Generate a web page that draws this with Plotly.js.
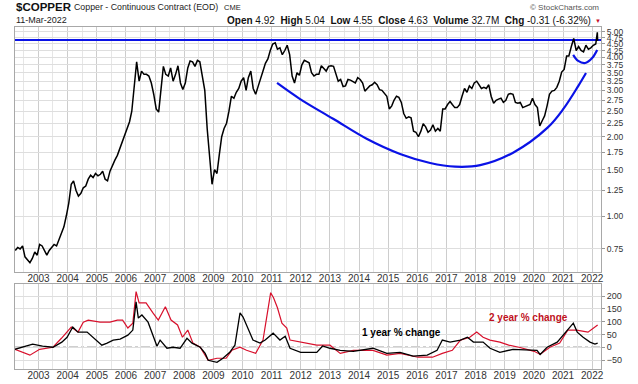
<!DOCTYPE html>
<html><head><meta charset="utf-8">
<script src="https://cdn.plot.ly/plotly-3.0.1.min.js"></script>
<style>html,body{margin:0;padding:0;background:#fff}</style>
</head><body><div id="chart" style="width:638px;height:384px"></div>
<script>
// ---- DATA ----
// Monthly copper closes ($/lb), Mar 2002 .. Feb 2022
const priceFirstMonth = '2002-03';
const price = [
  0.74,0.76,0.75,0.77,0.70,0.68,0.665,0.69,0.73,0.71,                 // 2002 Mar-Dec
  0.78,0.77,0.74,0.71,0.74,0.76,0.78,0.77,0.81,0.86,0.91,1.00,        // 2003
  1.12,1.32,1.36,1.25,1.19,1.22,1.28,1.30,1.38,1.43,1.40,1.45,        // 2004
  1.42,1.44,1.48,1.38,1.36,1.48,1.56,1.63,1.70,1.80,1.92,2.05,        // 2005
  2.18,2.28,2.50,3.05,3.85,3.25,3.55,3.45,3.45,3.40,3.20,2.90,        // 2006
  2.55,2.48,3.05,3.70,3.45,3.40,3.65,3.25,3.45,3.72,3.20,3.02,        // 2007
  3.20,3.65,3.88,3.85,3.70,3.90,3.85,3.35,3.00,2.15,1.70,1.32,        // 2008
  1.50,1.45,1.70,2.00,2.15,2.25,2.50,2.85,2.80,2.95,3.05,3.25,        // 2009
  3.35,3.00,3.35,3.55,3.05,2.90,3.10,3.35,3.55,3.80,3.95,4.25,        // 2010
  4.50,4.55,4.30,4.35,4.10,4.25,4.45,4.10,3.40,3.20,3.50,3.42,        // 2011
  3.75,3.90,3.85,3.82,3.50,3.40,3.45,3.45,3.72,3.65,3.55,3.70,        // 2012
  3.72,3.70,3.45,3.25,3.30,3.10,3.12,3.30,3.28,3.25,3.20,3.35,        // 2013
  3.30,3.20,2.98,3.05,3.12,3.15,3.22,3.15,3.02,3.00,2.92,2.85,        // 2014
  2.55,2.62,2.75,2.85,2.82,2.70,2.45,2.35,2.38,2.36,2.10,2.08,        // 2015
  2.00,2.10,2.24,2.18,2.08,2.12,2.22,2.10,2.15,2.10,2.55,2.55,        // 2016
  2.65,2.72,2.65,2.58,2.58,2.65,2.85,3.05,2.95,3.12,3.05,3.20,        // 2017
  3.25,3.15,3.05,3.08,3.05,3.15,2.85,2.68,2.75,2.78,2.80,2.70,        // 2018
  2.75,2.90,2.92,2.90,2.70,2.68,2.70,2.58,2.60,2.62,2.65,2.80,        // 2019
  2.65,2.58,2.20,2.30,2.40,2.62,2.90,2.98,3.00,3.08,3.25,3.52,        // 2020
  3.60,4.05,4.05,4.40,4.72,4.25,4.40,4.25,4.20,4.45,4.30,4.35,        // 2021
  4.45,4.50                                                           // 2022 Jan-Feb
];
const tailDates = ['2022-03-07','2022-03-11'];
const tailPrice = [4.98, 4.63];

const resistanceLevel = 4.66;

// hand-drawn rounding-bottom arc (date, price)
const arcDates = ['2011-03-10','2011-12-24','2013-02-10','2014-04-12','2015-05-30','2016-06-10','2017-04-19','2018-02-28','2019-04-16','2020-06-18','2021-01-05','2021-07-12','2021-10-16'];
const arcPrice = [3.20,2.78,2.34,1.96,1.72,1.59,1.54,1.56,1.74,2.16,2.55,3.12,3.49];
const smallArcDates = ['2021-05-08','2021-07-10','2021-10-05','2022-01-01','2022-03-05'];
const smallArcPrice = [4.09,3.88,3.81,3.98,4.27];

// 1-year % change
const chg1Dates = ['2002-03-11','2002-10-20','2003-02-20','2003-07-01','2003-10-20','2003-12-25','2004-03-05','2004-05-10','2004-09-01','2004-11-15','2005-03-05','2005-05-10','2005-07-25','2005-10-20','2006-01-25','2006-03-28','2006-05-08','2006-06-05','2006-07-20','2006-10-05','2006-12-05','2007-01-25','2007-03-05','2007-05-30','2007-08-15','2007-11-10','2008-02-05','2008-04-08','2008-07-20','2008-09-20','2008-10-28','2009-02-15','2009-05-01','2009-07-25','2009-09-28','2009-12-01','2010-01-08','2010-03-01','2010-05-12','2010-08-08','2010-10-12','2011-01-20','2011-04-15','2011-06-20','2011-08-20','2012-01-01','2012-07-20','2012-10-01','2013-01-01','2013-05-10','2013-10-20','2014-06-25','2014-12-15','2015-05-30','2015-11-10','2016-05-05','2016-09-05','2016-11-10','2017-02-15','2017-06-25','2017-09-20','2017-12-05','2018-04-05','2018-07-01','2018-11-01','2019-04-15','2019-10-10','2020-02-10','2020-03-20','2020-06-15','2020-10-20','2021-02-25','2021-05-10','2021-06-28','2021-09-10','2021-12-05','2022-02-05','2022-03-11'];
const chg1 = [-8,12,4,0,20,39,79,59,59,39,8,16,28,32,47,67,177,114,126,98,47,4,28,-4,0,-4,35,16,0,-24,-51,-59,-43,-20,8,134,118,79,28,16,28,55,28,43,-4,-20,-20,5,-4,-12,-16,-4,-24,-20,-35,-31,-12,28,20,28,39,20,20,-4,-20,-8,-12,-12,-28,0,20,67,94,59,39,20,12,16];

// 2-year % change
const chg2Dates = ['2002-03-11','2002-09-15','2003-01-15','2003-07-01','2003-10-15','2004-02-15','2004-05-10','2004-07-15','2004-09-15','2005-02-10','2005-06-15','2005-09-15','2005-11-20','2006-01-25','2006-03-28','2006-05-08','2006-06-15','2006-09-10','2006-12-05','2007-02-10','2007-05-10','2007-07-20','2007-10-10','2007-12-10','2008-02-15','2008-04-20','2008-07-20','2008-10-28','2009-02-15','2009-06-10','2009-08-20','2009-12-01','2010-02-20','2010-06-15','2010-09-15','2010-12-20','2011-01-25','2011-03-15','2011-05-10','2011-07-10','2011-08-20','2012-01-01','2012-07-20','2013-01-01','2013-05-10','2013-10-20','2014-06-25','2014-12-15','2015-05-30','2016-01-10','2016-07-10','2016-11-10','2017-03-15','2017-06-25','2017-10-20','2018-01-15','2018-04-05','2018-06-30','2018-11-01','2019-02-20','2019-06-30','2020-01-05','2020-03-20','2020-07-20','2020-11-20','2021-03-01','2021-06-20','2021-11-10','2022-03-11'];
const chg2 = [-8,-31,-8,0,35,79,59,98,106,98,98,106,106,75,94,217,173,173,134,106,158,106,87,39,67,16,0,-51,-43,-43,-12,0,-12,-24,28,213,193,154,94,75,28,20,8,8,-24,-12,-12,-31,-24,-39,-39,-24,-12,28,39,59,39,28,20,8,0,-16,-28,0,16,67,67,59,87];

// tick labels
const yTicksTop = [0.75,1.00,1.25,1.50,1.75,2.00,2.25,2.50,2.75,3.00,3.25,3.50,3.75,4.00,4.25,4.50,4.75,5.00];
const yTicksBottom = [-50,0,50,100,150,200];

// ---- BUILD ----
const priceDates = [];
{
  let [y, m] = priceFirstMonth.split('-').map(Number);
  for (let i = 0; i < price.length; i++) {
    priceDates.push(y + '-' + String(m).padStart(2,'0') + '-15');
    m++; if (m > 12) { m = 1; y++; }
  }
}
const allDates = priceDates.concat(tailDates);
const allPrice = price.concat(tailPrice);

const xRange = ['2002-03-12', '2022-04-22'];
const W = 638, H = 384, L = 15, R = 37, T = 27, B = 15;
const pw = W - L - R, ph = H - T - B;
const px = x => (x - L) / pw;
const py = y => (H - B - y) / ph;

const FONT = 'Liberation Sans, Arial, sans-serif';

const traces = [
  {x: xRange, y: [resistanceLevel, resistanceLevel], xaxis:'x', yaxis:'y', mode:'lines',
   line:{color:'#0a12e6', width:2}, hoverinfo:'skip'},
  {x: arcDates, y: arcPrice, xaxis:'x', yaxis:'y', mode:'lines',
   line:{color:'#0a12e6', width:2.2, shape:'spline', smoothing:1.0}, hoverinfo:'skip'},
  {x: smallArcDates, y: smallArcPrice, xaxis:'x', yaxis:'y', mode:'lines',
   line:{color:'#0a12e6', width:2.2, shape:'spline', smoothing:1.0}, hoverinfo:'skip'},
  {x: allDates, y: allPrice, xaxis:'x', yaxis:'y', mode:'lines',
   line:{color:'#000', width:1.5}},
  {x: chg2Dates, y: chg2, xaxis:'x2', yaxis:'y2', mode:'lines',
   line:{color:'#d8102c', width:1.2}},
  {x: chg1Dates, y: chg1, xaxis:'x2', yaxis:'y2', mode:'lines',
   line:{color:'#000', width:1.3}}
];

const xCommon = {
  type:'date', range: xRange, dtick:'M12', tick0:'2003-01-01', tickformat:'%Y',
  showgrid:true, gridcolor:'#cdcdcd', gridwidth:1,
  minor:{dtick:'M6', tick0:'2003-01-01', showgrid:true, gridcolor:'#e6e6e6'},
  showline:true, mirror:true, linecolor:'#a8a8a8', linewidth:1,
  ticks:'', ticklabelstandoff:-3, tickfont:{family:FONT, size:10, color:'#333'}, zeroline:false, fixedrange:true
};

const layout = {
  width: W, height: H,
  margin:{l:L, r:R, t:T, b:B, pad:0},
  paper_bgcolor:'#fff', plot_bgcolor:'#fff',
  showlegend:false,
  font:{family:FONT, color:'#333'},
  xaxis: Object.assign({}, xCommon, {domain:[0,1], anchor:'y'}),
  xaxis2: Object.assign({}, xCommon, {domain:[0,1], anchor:'y2', matches:'x'}),
  yaxis: {
    domain:[py(272), 1], type:'log', range:[Math.log10(0.613), Math.log10(5.22)],
    side:'right', tickmode:'array', tickvals:yTicksTop, ticktext:yTicksTop.map(v=>v.toFixed(2)),
    ticks:'outside', ticklen:3, tickcolor:'#999', tickfont:{family:FONT, size:8.5, color:'#333'},
    showgrid:true, gridcolor:'#dedede', showline:true, mirror:true, linecolor:'#a8a8a8', zeroline:false
  },
  yaxis2: {
    domain:[0, py(284)], range:[-85, 247], side:'right', tickmode:'array', tickvals:yTicksBottom,
    ticks:'outside', ticklen:3, tickcolor:'#999', tickfont:{family:FONT, size:9, color:'#333'},
    showgrid:true, gridcolor:'#dedede', showline:true, mirror:true, linecolor:'#a8a8a8', zeroline:false
  },
  shapes:[
    {type:'line', xref:'paper', yref:'y2', x0:0, x1:1, y0:0, y1:0,
     line:{color:'#a0a0a0', width:1.3, dash:'dashdot'}, layer:'below'}
  ],
  annotations:[
    {xref:'paper', yref:'paper', x:px(15), y:py(7), xanchor:'left', yanchor:'middle', showarrow:false,
     text:'<b>$COPPER</b>', font:{family:FONT, size:11.5, color:'#111'}, borderpad:0},
    {xref:'paper', yref:'paper', x:px(73), y:py(7.5), xanchor:'left', yanchor:'middle', showarrow:false,
     text:'Copper - Continuous Contract (EOD)', font:{family:FONT, size:8.8, color:'#222'}, borderpad:0},
    {xref:'paper', yref:'paper', x:px(223), y:py(8), xanchor:'left', yanchor:'middle', showarrow:false,
     text:'CME', font:{family:FONT, size:7.5, color:'#222'}, borderpad:0},
    {xref:'paper', yref:'paper', x:px(15), y:py(20.5), xanchor:'left', yanchor:'middle', showarrow:false,
     text:'11-Mar-2022', font:{family:FONT, size:9, color:'#222'}, borderpad:0},
    {xref:'paper', yref:'paper', x:px(592), y:py(20.5), xanchor:'right', yanchor:'middle', showarrow:false,
     text:'<b>Open</b> 4.92&nbsp; <b>High</b> 5.04&nbsp; <b>Low</b> 4.55&nbsp; <b>Close</b> 4.63&nbsp; <b>Volume</b> 32.7M&nbsp; <b>Chg</b> -0.31 (-6.32%)',
     font:{family:FONT, size:10, color:'#111'}, borderpad:0},
    {xref:'paper', yref:'paper', x:px(597.5), y:py(21), xanchor:'center', yanchor:'middle', showarrow:false,
     text:'▼', font:{family:FONT, size:6, color:'#c8102e'}, borderpad:0},
    {xref:'paper', yref:'paper', x:px(600), y:py(7.5), xanchor:'right', yanchor:'middle', showarrow:false,
     text:'© StockCharts.com', font:{family:FONT, size:8, color:'#555'}, borderpad:0},
    {xref:'paper', yref:'paper', x:px(401), y:py(332), xanchor:'center', yanchor:'middle', showarrow:false,
     text:'<b>1 year % change</b>', font:{family:FONT, size:10, color:'#000'}, borderpad:0},
    {xref:'paper', yref:'paper', x:px(528), y:py(317), xanchor:'center', yanchor:'middle', showarrow:false,
     text:'<b>2 year % change</b>', font:{family:FONT, size:10, color:'#c0101c'}, borderpad:0}
  ]
};

Plotly.newPlot('chart', traces, layout, {staticPlot:true, displayModeBar:false});
</script>
</body></html>
